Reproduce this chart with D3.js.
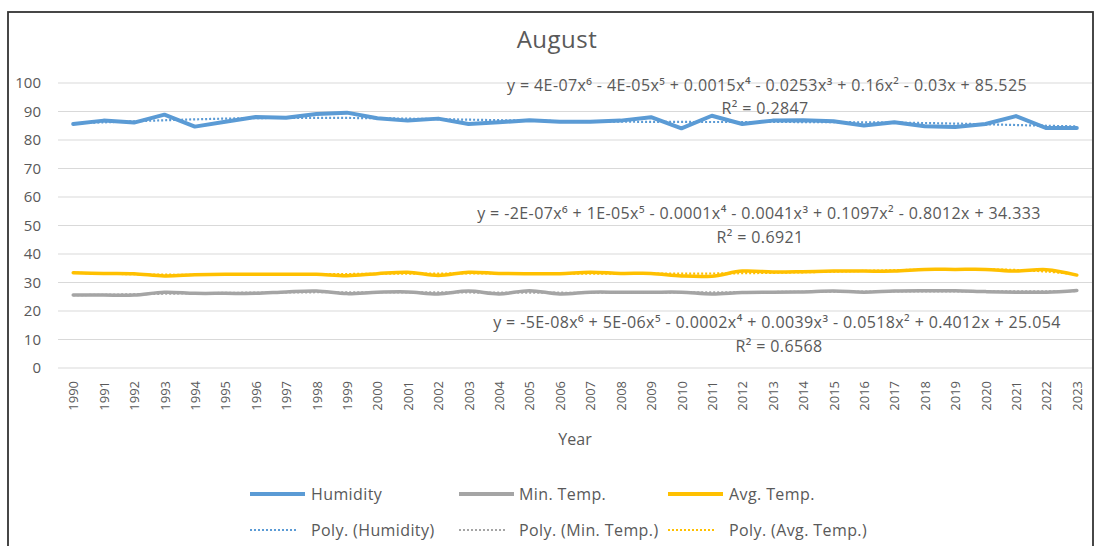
<!DOCTYPE html>
<html>
  <head>
    <meta charset='utf-8'>
    <script src="https://d3js.org/d3.v7.min.js"></script>
    <title>August</title>
    <style>
      body { margin: 0; background: #fff; }
      text { font-family: 'Open Sans', 'Liberation Sans', sans-serif; fill: #595959; }
    </style>
  </head>
  <body>
    <div id='chartDIV'></div>
    <script>

  // data
  var years = d3.range(1990, 2024).map(String);
  var humidity = [85.6, 86.8, 86.1, 88.9, 84.7, 86.4, 88.1, 87.8, 89.1, 89.6,
                  87.6, 86.8, 87.5, 85.6, 86.2, 86.9, 86.4, 86.4, 86.8, 88.0,
                  84.1, 88.5, 85.6, 86.8, 86.9, 86.6, 85.1, 86.2, 84.8, 84.6,
                  85.6, 88.4, 84.2, 84.2];
  var minTemp = [25.6, 25.6, 25.6, 26.6, 26.2, 26.2, 26.2, 26.7, 27.0, 26.1,
                 26.6, 26.7, 26.0, 27.0, 26.0, 27.1, 26.0, 26.6, 26.6, 26.6,
                 26.6, 26.0, 26.5, 26.6, 26.7, 27.0, 26.6, 27.0, 27.1, 27.1,
                 26.8, 26.6, 26.6, 27.2];
  var avgTemp = [33.4, 33.2, 33.1, 32.3, 32.7, 32.9, 32.9, 32.9, 32.9, 32.4,
                 33.1, 33.6, 32.5, 33.6, 33.2, 33.1, 33.1, 33.6, 33.2, 33.2,
                 32.3, 32.2, 34.0, 33.7, 33.8, 34.0, 34.0, 34.0, 34.6, 34.6,
                 34.6, 34.0, 34.5, 32.6];
  var yTicks = [0, 10, 20, 30, 40, 50, 60, 70, 80, 90, 100];
  var seriesNames = ['Humidity', 'Min. Temp.', 'Avg. Temp.'];
  var trendNames = ['Poly. (Humidity)', 'Poly. (Min. Temp.)', 'Poly. (Avg. Temp.)'];
  var equations = [
    ['y = 4E-07x⁶ - 4E-05x⁵ + 0.0015x⁴ - 0.0253x³ + 0.16x² - 0.03x + 85.525', 'R² = 0.2847'],
    ['y = -2E-07x⁶ + 1E-05x⁵ - 0.0001x⁴ - 0.0041x³ + 0.1097x² - 0.8012x + 34.333', 'R² = 0.6921'],
    ['y = -5E-08x⁶ + 5E-06x⁵ - 0.0002x⁴ + 0.0039x³ - 0.0518x² + 0.4012x + 25.054', 'R² = 0.6568']
  ];

  var colors = ['#5b9bd5', '#a5a5a5', '#ffc000'];
  var allSeries = [humidity, minTemp, avgTemp];

  const W = 1102, H = 546;
  const plot = { left: 58, right: 1092, top: 83, bottom: 368 };

  var svg = d3.select('#chartDIV').append('svg')
    .attr('width', W).attr('height', H);

  // chart border
  svg.append('rect')
    .attr('x', 8).attr('y', 12).attr('width', 1085).attr('height', 560)
    .attr('fill', 'none').attr('stroke', '#333').attr('stroke-width', 1.8);

  var xScale = d3.scalePoint().domain(years).range([plot.left, plot.right]).padding(0.5);
  var yScale = d3.scaleLinear().domain([0, 100]).range([plot.bottom, plot.top]);

  // gridlines
  svg.append('g').selectAll('line').data(yTicks).enter().append('line')
    .attr('x1', plot.left).attr('x2', plot.right)
    .attr('y1', d => yScale(d)).attr('y2', d => yScale(d))
    .attr('stroke', '#d9d9d9').attr('stroke-width', 1);

  // y axis
  var yAxis = svg.append('g')
    .attr('transform', 'translate(' + (plot.left - 13) + ',0)')
    .call(d3.axisLeft(yScale).tickValues(yTicks).tickSize(0).tickPadding(4));
  yAxis.select('.domain').remove();
  yAxis.selectAll('text').style('font-size', '15px').attr('fill', '#595959')
    .style('font-family', "'Open Sans', sans-serif");

  // x axis
  var xAxis = svg.append('g')
    .attr('transform', 'translate(0,' + plot.bottom + ')')
    .call(d3.axisBottom(xScale).tickSize(0));
  xAxis.select('.domain').remove();
  xAxis.selectAll('text')
    .style('font-size', '13px').attr('fill', '#595959')
    .style('font-family', "'Open Sans', sans-serif")
    .attr('transform', 'rotate(-90)')
    .attr('text-anchor', 'end')
    .attr('x', -13).attr('y', 0).attr('dy', '0.35em');

  svg.append('text')
    .attr('x', 575).attr('y', 445)
    .attr('text-anchor', 'middle')
    .style('font-size', '16px')
    .text('Year');

  svg.append('text')
    .attr('x', 557).attr('y', 48)
    .attr('text-anchor', 'middle')
    .style('font-size', '24px')
    .style('letter-spacing', '0.5px')
    .text('August');

  // 6th order polynomial fit, x = 1..n as in excel
  function polyFit(ys, order) {
    var n = ys.length, c = (n + 1) / 2, s = (n - 1) / 2;
    var m = order + 1;
    var A = [], b = [];
    for (var i = 0; i < m; i++) { A.push(new Array(m).fill(0)); b.push(0); }
    ys.forEach(function(y, k) {
      var t = (k + 1 - c) / s, p = [];
      for (var i = 0; i < m; i++) p.push(Math.pow(t, i));
      for (var i = 0; i < m; i++) {
        b[i] += p[i] * y;
        for (var j = 0; j < m; j++) A[i][j] += p[i] * p[j];
      }
    });
    for (var i = 0; i < m; i++) {
      var piv = i;
      for (var r = i + 1; r < m; r++) if (Math.abs(A[r][i]) > Math.abs(A[piv][i])) piv = r;
      [A[i], A[piv]] = [A[piv], A[i]]; [b[i], b[piv]] = [b[piv], b[i]];
      for (var r = i + 1; r < m; r++) {
        var f = A[r][i] / A[i][i];
        for (var j = i; j < m; j++) A[r][j] -= f * A[i][j];
        b[r] -= f * b[i];
      }
    }
    var coef = new Array(m).fill(0);
    for (var i = m - 1; i >= 0; i--) {
      var sum = b[i];
      for (var j = i + 1; j < m; j++) sum -= A[i][j] * coef[j];
      coef[i] = sum / A[i][i];
    }
    return ys.map(function(y, k) {
      var t = (k + 1 - c) / s, v = 0;
      for (var i = 0; i < m; i++) v += coef[i] * Math.pow(t, i);
      return v;
    });
  }

  var lineLinear = d3.line().x((d, i) => xScale(years[i])).y(d => yScale(d));
  var lineSmooth = d3.line().x((d, i) => xScale(years[i])).y(d => yScale(d))
    .curve(d3.curveCatmullRom.alpha(0.5));

  // series lines
  allSeries.forEach(function(vals, idx) {
    svg.append('path')
      .datum(vals)
      .attr('d', idx == 0 ? lineLinear : lineSmooth)
      .attr('fill', 'none')
      .attr('stroke', colors[idx])
      .attr('stroke-width', idx == 0 ? 4 : 3.5)
      .attr('stroke-linejoin', 'round')
      .attr('stroke-linecap', 'round');
  });

  // trendlines
  allSeries.forEach(function(vals, idx) {
    svg.append('path')
      .datum(polyFit(vals, 6))
      .attr('d', lineSmooth)
      .attr('fill', 'none')
      .attr('stroke', colors[idx])
      .attr('stroke-width', 2.2)
      .attr('stroke-dasharray', '2,2');
  });

  // trend equations
  var eqPos = [[767, 91, 765, 114], [759, 219, 760, 243], [777, 328, 779, 352]];
  equations.forEach(function(eq, idx) {
    svg.append('text').attr('x', eqPos[idx][0]).attr('y', eqPos[idx][1])
      .attr('text-anchor', 'middle').style('font-size', '16px')
      .style('letter-spacing', '0.4px').text(eq[0]);
    svg.append('text').attr('x', eqPos[idx][2]).attr('y', eqPos[idx][3])
      .attr('text-anchor', 'middle').style('font-size', '16px')
      .style('letter-spacing', '0.4px').text(eq[1]);
  });

  // legend
  var legX = [250, 459, 668];
  var legTextX = [311, 519, 729];
  seriesNames.forEach(function(name, idx) {
    svg.append('line')
      .attr('x1', legX[idx]).attr('x2', legX[idx] + 55)
      .attr('y1', 494).attr('y2', 494)
      .attr('stroke', colors[idx]).attr('stroke-width', 4);
    svg.append('text').attr('x', legTextX[idx]).attr('y', 500)
      .style('font-size', '16px').style('letter-spacing', '0.4px').text(name);
    svg.append('line')
      .attr('x1', legX[idx]).attr('x2', legX[idx] + 48)
      .attr('y1', 530).attr('y2', 530)
      .attr('stroke', colors[idx]).attr('stroke-width', 2.2)
      .attr('stroke-dasharray', '2,2');
    svg.append('text').attr('x', legTextX[idx]).attr('y', 536)
      .style('font-size', '16px').style('letter-spacing', '0.4px').text(trendNames[idx]);
  });

    </script>
  </body>
</html>
